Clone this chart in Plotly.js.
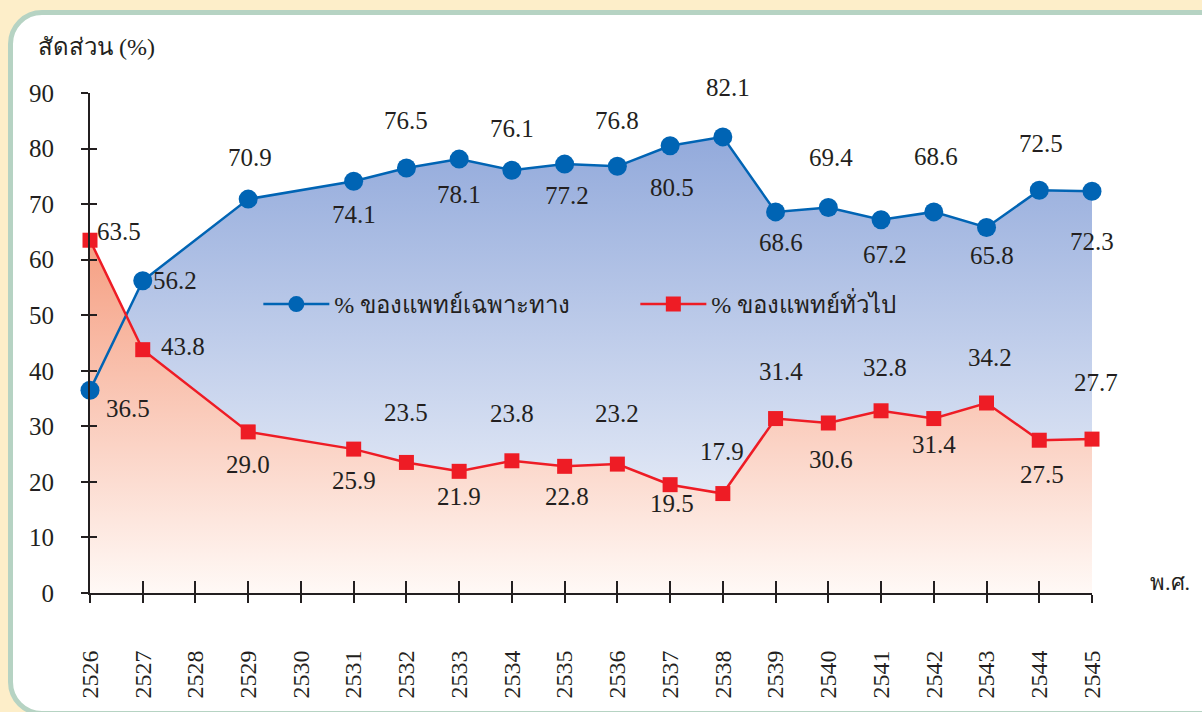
<!DOCTYPE html>
<html>
<head>
<meta charset="utf-8">
<script src="https://cdn.plot.ly/plotly-3.0.1.min.js"></script>
<style>
  html, body { margin: 0; padding: 0; width: 1202px; height: 712px; overflow: hidden; background: #fdeec9; }
  #panel { position: absolute; left: 8px; top: 10px; width: 1240px; height: 706px; box-sizing: border-box;
           border: 5px solid #b6d3c3; border-radius: 34px; background: #ffffff; }
  #chart { position: absolute; left: 0; top: 0; width: 1202px; height: 712px; }
</style>
</head>
<body>
<div id="panel"></div>
<div id="chart"></div>
<script>
// ---- data ----
const years = [2526, 2527, 2529, 2531, 2532, 2533, 2534, 2535, 2536, 2537, 2538, 2539, 2540, 2541, 2542, 2543, 2544, 2545];
const specialistPct = [36.5, 56.2, 70.9, 74.1, 76.5, 78.1, 76.1, 77.2, 76.8, 80.5, 82.1, 68.6, 69.4, 67.2, 68.6, 65.8, 72.5, 72.3];
const generalPct = [63.5, 43.8, 29.0, 25.9, 23.5, 21.9, 23.8, 22.8, 23.2, 19.5, 17.9, 31.4, 30.6, 32.8, 31.4, 34.2, 27.5, 27.7];
const tickYears = [2526, 2527, 2528, 2529, 2530, 2531, 2532, 2533, 2534, 2535, 2536, 2537, 2538, 2539, 2540, 2541, 2542, 2543, 2544, 2545];
const yTicks = [0, 10, 20, 30, 40, 50, 60, 70, 80, 90];
const seriesNames = ['% ของแพทย์เฉพาะทาง', '% ของแพทย์ทั่วไป'];
const yTitle = 'สัดส่วน (%)';
const xUnit = 'พ.ศ.';

// label offsets in pixels (style only): [xshift, yshift], yshift positive = up
const specOffsets = [[38, -18], [32, 0], [2, 42], [0, -33], [0, 48], [0, -35], [0, 42], [2, -31], [0, 46],
                     [2, -42], [5, 49], [5, -31], [3, 50], [4, -35], [2, 55], [5, -28], [2, 47], [0, -50]];
const genOffsets  = [[29, 9], [40, 3], [0, -33], [0, -31], [0, 50], [0, -25], [0, 47], [2, -30], [0, 51],
                     [2, -19], [-1, 42], [5, 47], [3, -36], [4, 43], [0, -26], [3, 46], [3, -34], [4, 57]];

const FONT = 'Liberation Serif, serif';
const TXT = '#231f20';
const BLUE = '#0064b4';
const RED = '#ee1c25';

const traces = [
  { x: years, y: specialistPct, type: 'scatter', mode: 'none', fill: 'tozeroy',
    fillgradient: { type: 'vertical', start: 0, stop: 85, colorscale: [[0, '#f7f9fd'], [1, '#8fa7da']] },
    showlegend: false, hoverinfo: 'skip' },
  { x: years, y: generalPct, type: 'scatter', mode: 'none', fill: 'tozeroy',
    fillgradient: { type: 'vertical', start: 0, stop: 66, colorscale: [[0, '#fff9f6'], [1, '#f59b7d']] },
    showlegend: false, hoverinfo: 'skip' },
  { x: years, y: specialistPct, type: 'scatter', mode: 'lines+markers', name: seriesNames[0],
    line: { color: BLUE, width: 2.5 }, marker: { symbol: 'circle', size: 19, color: BLUE },
    cliponaxis: false, hoverinfo: 'skip' },
  { x: years, y: generalPct, type: 'scatter', mode: 'lines+markers', name: seriesNames[1],
    line: { color: RED, width: 2.5 }, marker: { symbol: 'square', size: 15, color: RED },
    cliponaxis: false, hoverinfo: 'skip' },
  { x: [null], y: [null], xaxis: 'x2', yaxis: 'y2', type: 'scatter', mode: 'markers', showlegend: false, hoverinfo: 'skip' }
];

const annotations = [];
function addLabels(vals, offsets) {
  vals.forEach((v, i) => {
    annotations.push({ x: years[i], y: v, xref: 'x', yref: 'y', text: v.toFixed(1), showarrow: false,
      xshift: offsets[i][0], yshift: offsets[i][1], xanchor: 'center', yanchor: 'middle',
      font: { family: FONT, size: 25, color: TXT } });
  });
}
addLabels(specialistPct, specOffsets);
addLabels(generalPct, genOffsets);
annotations.push({ xref: 'paper', yref: 'paper', x: -0.054, y: 1.092, xanchor: 'left', yanchor: 'middle',
  text: yTitle, showarrow: false, font: { family: FONT, size: 24, color: TXT } });
annotations.push({ xref: 'paper', yref: 'paper', x: 1.056, y: 0.022, xanchor: 'left', yanchor: 'middle',
  text: xUnit, showarrow: false, font: { family: FONT, size: 22, color: TXT } });

const axisCommon = { showgrid: false, zeroline: false, linecolor: TXT, linewidth: 2, tickcolor: TXT, tickwidth: 2 };

const layout = {
  width: 1202, height: 712,
  margin: { l: 90, r: 110, t: 93, b: 119 },
  paper_bgcolor: 'rgba(0,0,0,0)', plot_bgcolor: 'rgba(0,0,0,0)',
  font: { family: FONT, color: TXT, size: 22 },
  showlegend: true,
  legend: { orientation: 'h', x: 0.168, y: 0.577, xanchor: 'left', yanchor: 'middle',
            bgcolor: 'rgba(0,0,0,0)', font: { family: FONT, size: 24, color: TXT },
            itemwidth: 66, entrywidth: 296, entrywidthmode: 'pixels' },
  xaxis: Object.assign({}, axisCommon, { range: [2526, 2545], tickmode: 'array', tickvals: tickYears,
    ticktext: tickYears.map(String), ticks: 'outside', ticklen: 8, tickangle: -90, ticklabelstandoff: 38,
    showline: true, tickfont: { family: FONT, size: 24, color: TXT } }),
  yaxis: Object.assign({}, axisCommon, { range: [0, 90], tickmode: 'array', tickvals: yTicks,
    ticks: 'outside', ticklen: 7, ticklabelstandoff: 22, showline: true,
    tickfont: { family: FONT, size: 25, color: TXT } }),
  xaxis2: Object.assign({}, axisCommon, { overlaying: 'x', anchor: 'y2', range: [2526, 2545], tickmode: 'array',
    tickvals: tickYears, ticks: 'inside', ticklen: 12, showline: false, showticklabels: false }),
  yaxis2: Object.assign({}, axisCommon, { overlaying: 'y', anchor: 'x2', side: 'left', range: [0, 90], tickmode: 'array',
    tickvals: yTicks, ticks: 'inside', ticklen: 7, showline: false, showticklabels: false }),
  annotations: annotations
};

Plotly.newPlot('chart', traces, layout, { displayModeBar: false, staticPlot: true });
</script>
</body>
</html>
